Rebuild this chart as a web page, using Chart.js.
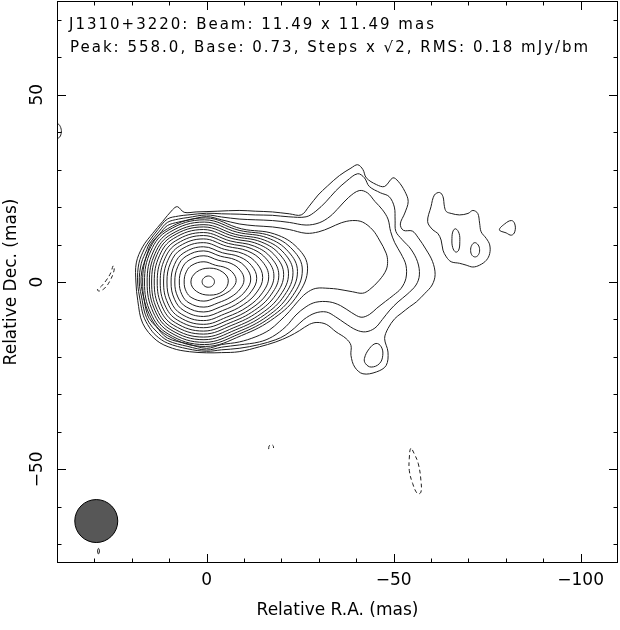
<!DOCTYPE html>
<html>
<head>
<meta charset="utf-8">
<script src="https://cdn.jsdelivr.net/npm/chart.js@4.4.1/dist/chart.umd.min.js"></script>
<style>
html,body{margin:0;padding:0;background:#fff;}
#wrap{width:620px;height:630px;}
</style>
</head>
<body>
<div id="wrap"><canvas id="c" width="620" height="630"></canvas></div>
<script>
// ---------- axes / ticks ----------
const X_RANGE = [-110, 40];
const Y_RANGE = [-75, 75];
const X_MAJOR = [0, -50, -100];
const X_MINOR = [30, 20, 10, -10, -20, -30, -40, -60, -70, -80, -90];
const Y_MAJOR = [50, 0, -50];
const Y_MINOR = [70, 60, 40, 30, 20, 10, -10, -20, -30, -40, -60, -70];
const X_TITLE = 'Relative R.A. (mas)';
const Y_TITLE = 'Relative Dec. (mas)';
const TITLE_LINE_1 = 'J1310+3220: Beam: 11.49 x 11.49 mas';
const TITLE_LINE_2 = 'Peak: 558.0, Base: 0.73, Steps x \u221A2, RMS: 0.18 mJy/bm';
const BEAM = {x: 29.5, y: -63.8, major: 11.49, minor: 11.49};

// ---------- contours (x = rel. R.A. mas, y = rel. Dec. mas) ----------
// levels 0..3 : enclose core + lobe
const CONTOUR_L0 = [[18.9,0],[18.8,5.1],[17.1,9.4],[14.4,13.0],[11.8,16.1],[9.1,19.3],[7.8,20.1],[6.0,18.6],[2.8,18.7],[-3,18.9],[-8.7,19.1],[-13,18.9],[-17.6,18.7],[-22.1,18.2],[-25.3,17.9],[-27.4,20.2],[-29.8,23.2],[-32.3,25.6],[-35.5,28.4],[-38.6,30.4],[-40.4,31.3],[-41.8,30.0],[-42.7,27.8],[-45.4,26.0],[-47.6,25.5],[-49.8,27.8],[-51.2,26.9],[-53.0,24.2],[-53.9,21.5],[-53.0,18.4],[-51.8,15.5],[-52.6,13.8],[-55.0,13.6],[-56.6,11.8],[-58.6,8.8],[-60.4,5.5],[-61.1,2.0],[-60.3,-0.8],[-58.4,-3.0],[-56.1,-5.3],[-54.3,-6.6],[-52.0,-8.4],[-50.3,-9.8],[-48.5,-12.4],[-47.6,-15.1],[-48.5,-18.7],[-48.0,-22.3],[-45.4,-24.0],[-41.8,-24.5],[-39.6,-22.7],[-38.6,-19.6],[-38.6,-16.9],[-37.3,-15.1],[-34.6,-13.3],[-32.0,-11.3],[-29.5,-10.8],[-27.5,-11.3],[-24.8,-13.0],[-22.1,-14.5],[-18.5,-16.0],[-14.1,-17.3],[-8.7,-18.6],[-4,-18.85],[0,-18.9],[4.6,-18.6],[9.1,-17.7],[13.5,-15.5],[17.1,-11.0],[18.4,-5]];
const CONTOUR_L1 = [[18.45,0],[18.1,5.0],[16.6,8.9],[15.34,10.95],[13.0,14.0],[10.49,16.8],[7.5,17.6],[5,17.9],[0,18.35],[-4,18.2],[-8.7,18.1],[-13,17.9],[-17.6,17.8],[-22,17.4],[-26.6,17.4],[-29.2,18.9],[-31.9,21.4],[-34.5,24.3],[-37.5,27.0],[-40.4,28.9],[-42.2,27.8],[-43.5,25.5],[-46.5,23.8],[-48.8,22.8],[-50.2,20.0],[-50.4,16.5],[-50.6,13.5],[-52.3,11.3],[-54.6,8.8],[-56.4,5.4],[-56.9,1.9],[-56.0,-0.8],[-53.6,-3.3],[-51.2,-5.3],[-49.0,-7.5],[-47.0,-10.0],[-45.0,-12.3],[-42.5,-13.3],[-40.0,-12.8],[-37.0,-11.0],[-34.5,-9.3],[-32.0,-8.0],[-29.0,-8.3],[-26.0,-10.0],[-23.5,-12.3],[-21.0,-14.2],[-18.5,-15.4],[-14.1,-16.7],[-8.7,-17.7],[-4,-18.1],[0,-18.5],[5,-17.85],[10.49,-16.3],[13.5,-14.3],[15.34,-12.05],[16.9,-9.0],[17.75,-5]];
const CONTOUR_L2 = [[18.0,0],[17.45,5],[16.0,8.6],[15.34,10.15],[12.6,13.6],[10.49,15.9],[7.5,16.8],[5,17.2],[0,17.9],[-4,17.35],[-8.7,16.8],[-13,16.6],[-17.6,16.4],[-22.1,15.9],[-26.6,15.2],[-30.1,15.8],[-33.0,17.5],[-35.5,20.0],[-38.0,22.6],[-40.8,24.4],[-43.0,23.8],[-45.0,21.5],[-47.0,19.3],[-48.5,16.8],[-49.2,13.5],[-50.3,10.5],[-52.0,7.5],[-53.3,4.5],[-53.3,1.0],[-52.0,-1.7],[-50.0,-3.5],[-47.8,-5.2],[-45.5,-7.0],[-43.5,-8.7],[-41.3,-9.4],[-38.8,-8.2],[-35.8,-6.3],[-32.8,-5.3],[-29.2,-5.4],[-26.6,-6.6],[-23.9,-8.8],[-21.2,-11.9],[-17.6,-14.6],[-14.1,-16.0],[-8.74,-16.8],[-4,-17.4],[0,-18.15],[5,-17.2],[10.49,-15.6],[13.5,-13.1],[15.34,-10.9],[16.6,-8.0],[17.2,-5]];
const CONTOUR_L3 = [[17.55,0],[17.3,3],[16.75,5],[15.9,7.5],[14.9,10.1],[12.5,12.9],[10.49,15.05],[7.5,16.0],[5,16.5],[0,17.45],[-4,16.6],[-8.7,15.5],[-13,15.0],[-17.6,14.7],[-22.1,14.0],[-26.6,13.0],[-30.0,13.4],[-33.0,14.5],[-36.0,15.8],[-39.0,16.4],[-41.7,16.0],[-44.4,13.9],[-46.2,11.2],[-48.0,7.7],[-48.4,5.5],[-48.0,3.2],[-46.2,0.5],[-43.5,-2.1],[-41.7,-3.0],[-39.0,-2.6],[-35.0,-1.9],[-32.8,-1.7],[-29.2,-1.7],[-26.6,-3.0],[-24.3,-5.3],[-22.1,-7.9],[-19.4,-10.6],[-16.8,-12.8],[-13.2,-14.6],[-8.74,-16.0],[-4,-16.7],[0,-17.7],[5,-16.5],[10.49,-14.95],[13.5,-11.9],[15.34,-9.75],[16.3,-7.0],[16.65,-5],[17.2,-2.5]];
// levels 4..19 : closed around the core
const CONTOUR_L4 = [[-27.0,3.7],[-24.35,9.06],[-18.18,12.81],[-9.36,14.19],[0.34,17.1],[10.49,14.19],[15.34,8.55],[17.1,0],[15.34,-8.6],[10.49,-14.28],[0.34,-17.2],[-9.36,-14.28],[-18.18,-9.55],[-24.35,-3.46]];
const CONTOUR_L5 = [[-25.6,3.2],[-23.07,8.56],[-17.16,12.31],[-8.72,13.78],[0.56,16.6],[10.27,13.78],[14.91,8.3],[16.6,0],[14.91,-8.35],[10.27,-13.86],[0.56,-16.7],[-8.72,-13.86],[-17.16,-9.39],[-23.07,-3.59]];
const CONTOUR_L6 = [[-24.3,2.8],[-21.89,8.08],[-16.26,11.78],[-8.22,13.28],[0.62,16.0],[9.87,13.28],[14.29,8.0],[15.9,0],[14.29,-8.05],[9.87,-13.36],[0.62,-16.1],[-8.22,-13.36],[-16.26,-9.14],[-21.89,-3.63]];
const CONTOUR_L7 = [[-23.1,2.5],[-20.8,7.62],[-15.42,11.2],[-7.74,12.7],[0.71,15.3],[9.54,12.7],[13.76,7.65],[15.3,0],[13.76,-7.7],[9.54,-12.78],[0.71,-15.4],[-7.74,-12.78],[-15.42,-8.8],[-20.8,-3.58]];
const CONTOUR_L8 = [[-21.9,2.2],[-19.7,7.2],[-14.58,10.7],[-7.26,12.2],[0.79,14.7],[9.21,12.2],[13.24,7.35],[14.7,0],[13.24,-7.35],[9.21,-12.2],[0.79,-14.7],[-7.26,-12.2],[-14.58,-8.45],[-19.7,-3.53]];
const CONTOUR_L9 = [[-20.6,2.0],[-18.52,6.8],[-13.68,10.16],[-6.76,11.62],[0.85,14.0],[8.81,11.62],[12.62,7.0],[14.0,0],[12.62,-6.95],[8.81,-11.54],[0.85,-13.9],[-6.76,-11.54],[-13.68,-8.02],[-18.52,-3.39]];
const CONTOUR_L10 = [[-19.3,1.8],[-17.35,6.36],[-12.8,9.55],[-6.3,10.96],[0.85,13.2],[8.33,10.96],[11.9,6.6],[13.2,0],[11.9,-6.55],[8.33,-10.87],[0.85,-13.1],[-6.3,-10.87],[-12.8,-7.58],[-17.35,-3.24]];
const CONTOUR_L11 = [[-18.0,1.6],[-16.18,5.92],[-11.92,8.94],[-5.84,10.29],[0.85,12.4],[7.84,10.29],[11.18,6.2],[12.4,0],[11.18,-6.1],[7.84,-10.13],[0.85,-12.2],[-5.84,-10.13],[-11.92,-7.08],[-16.18,-3.07]];
const CONTOUR_L12 = [[-16.6,1.4],[-14.91,5.44],[-10.98,8.27],[-5.36,9.55],[0.82,11.5],[7.29,9.55],[10.38,5.75],[11.5,0],[10.38,-5.65],[7.29,-9.38],[0.82,-11.3],[-5.36,-9.38],[-10.98,-6.59],[-14.91,-2.89]];
const CONTOUR_L13 = [[-15.0,1.2],[-13.46,4.92],[-9.88,7.52],[-4.76,8.72],[0.87,10.5],[6.76,8.72],[9.58,5.25],[10.6,0],[9.58,-5.15],[6.76,-8.55],[0.87,-10.3],[-4.76,-8.55],[-9.88,-6.03],[-13.46,-2.68]];
const CONTOUR_L14 = [[-13.4,1.0],[-12.03,4.36],[-8.82,6.71],[-4.24,7.8],[0.8,9.4],[6.07,7.8],[8.58,4.7],[9.5,0],[8.58,-4.6],[6.07,-7.64],[0.8,-9.2],[-4.24,-7.64],[-8.82,-5.4],[-12.03,-2.44]];
const CONTOUR_L15 = [[-11.8,0.8],[-10.58,3.8],[-7.74,5.9],[-3.68,6.89],[0.79,8.3],[5.46,6.89],[7.69,4.15],[8.5,0],[7.69,-4.0],[5.46,-6.64],[0.79,-8.0],[-3.68,-6.64],[-7.74,-4.72],[-10.58,-2.16]];
const CONTOUR_L16 = [[-10.0,0.6],[-8.96,3.16],[-6.54,4.95],[-3.08,5.81],[0.73,7.0],[4.71,5.81],[6.61,3.5],[7.3,0],[6.61,-3.35],[4.71,-5.56],[0.73,-6.7],[-3.08,-5.56],[-6.54,-3.97],[-8.96,-1.85]];
const CONTOUR_L17 = [[-7.9,0.4],[-7.07,2.4],[-5.12,3.8],[-2.34,4.48],[0.72,5.4],[3.92,4.48],[5.44,2.7],[6.0,0],[5.44,-2.55],[3.92,-4.23],[0.72,-5.1],[-2.34,-4.23],[-5.12,-3.04],[-7.07,-1.44]];
const CONTOUR_L18 = [[-5.8,0.3],[-4.34,2.62],[-0.8,3.7],[2.74,2.62],[4.2,0],[2.74,-2.47],[-0.8,-3.5],[-4.34,-2.47]];
const CONTOUR_L19 = [[-2.1,0.1],[-1.62,1.1],[-0.45,1.6],[0.72,1.1],[1.2,0.1],[0.72,-0.95],[-0.45,-1.4],[-1.62,-0.95]];
// separate positive islands
const ISLAND_WEST = [[-59.1,16.1],[-60.0,20.1],[-60.9,23.2],[-62.3,23.9],[-63.2,22.8],[-63.6,20.1],[-64.1,18.8],[-65.4,18.3],[-67.6,17.9],[-69.9,18.3],[-71.2,19.1],[-72.5,18.3],[-73.0,15.7],[-73.4,13.4],[-74.8,11.6],[-75.7,9.9],[-75.7,7.6],[-74.8,5.8],[-73.0,4.5],[-71.2,4.0],[-69.4,4.5],[-67.6,5.0],[-65.4,5.4],[-64.1,6.7],[-63.2,8.5],[-62.7,11.2],[-61.8,13.0],[-60.5,13.9]];
const ISLAND_WEST_IN1 = [[-66.6,14.2],[-67.5,13.0],[-67.7,10.8],[-67.4,8.5],[-66.6,8.0],[-65.8,9.2],[-65.6,11.6],[-65.9,13.6]];
const ISLAND_WEST_IN2 = [[-71.7,10.5],[-72.6,9.9],[-73.0,8.6],[-72.7,7.3],[-71.9,6.7],[-71.0,7.1],[-70.6,8.4],[-70.9,9.8]];
const ISLAND_FAR = [[-78.3,13.9],[-79.7,15.5],[-81.5,16.4],[-82.4,15.5],[-82.4,13.4],[-81.5,12.5],[-80.1,13.1]];
const ISLAND_SOUTH = [[-42.2,-20.4],[-43.5,-17.8],[-45.3,-16.4],[-46.7,-17.3],[-47.1,-19.6],[-46.2,-21.8],[-44.0,-22.7],[-42.5,-21.8]];
const EDGE_ARC = [[41,42.6],[39.8,42.3],[39.0,41.2],[38.9,39.6],[39.5,38.5],[41,38.1]];
const SPECK_SOUTH = [[28.9,-71.1],[28.65,-71.8],[28.9,-72.6],[29.15,-71.8]];
// negative (dashed) contours
const NEG_EAST = [[25.0,4.3],[25.6,2.5],[26.8,0.5],[28.2,-1.2],[29.2,-2.1],[28.6,-2.4],[27.2,-1.6],[25.9,0.2],[24.9,2.5],[24.7,4.0]];
const NEG_SOUTH_ARC = [[-16.6,-44.6],[-16.7,-43.8],[-17.2,-43.4],[-17.8,-43.7],[-17.9,-44.3]];
const NEG_SOUTHWEST = [[-54.6,-44.4],[-54.2,-47.0],[-54.2,-50.3],[-55.1,-53.8],[-56.4,-56.5],[-57.3,-56.1],[-57.3,-52.9],[-56.6,-48.5],[-55.5,-45.8]];

const CLOSED_POSITIVE = [CONTOUR_L0, CONTOUR_L1, CONTOUR_L2, CONTOUR_L3, CONTOUR_L4, CONTOUR_L5, CONTOUR_L6, CONTOUR_L7, CONTOUR_L8, CONTOUR_L9, CONTOUR_L10, CONTOUR_L11, CONTOUR_L12, CONTOUR_L13, CONTOUR_L14, CONTOUR_L15, CONTOUR_L16, CONTOUR_L17, CONTOUR_L18, CONTOUR_L19, ISLAND_WEST, ISLAND_WEST_IN1, ISLAND_WEST_IN2, ISLAND_FAR, ISLAND_SOUTH, SPECK_SOUTH];
const OPEN_POSITIVE = [EDGE_ARC];
const CLOSED_NEGATIVE = [NEG_EAST, NEG_SOUTHWEST];
const OPEN_NEGATIVE = [NEG_SOUTH_ARC];

// ---------- build datasets ----------
const LINE_COLOR = '#1e1e1e';
function toXY(arr){ return arr.map(p => ({x: p[0], y: p[1]})); }
function closedDataset(pts, dashed, tension){
  const n = pts.length;
  const wrapped = [pts[n-1]].concat(pts, [pts[0], pts[1]]);
  return {
    data: toXY(wrapped), showLine: true, pointRadius: 0, pointHoverRadius: 0, pointHitRadius: 0,
    borderColor: LINE_COLOR, borderWidth: 1, tension: tension, fill: false,
    borderDash: dashed ? [4, 3] : [],
    segment: { borderColor: c => (c.p0DataIndex === 0 || c.p0DataIndex === n + 1) ? 'rgba(0,0,0,0)' : undefined }
  };
}
function openDataset(pts, dashed){
  return {
    data: toXY(pts), showLine: true, pointRadius: 0, pointHoverRadius: 0, pointHitRadius: 0,
    borderColor: LINE_COLOR, borderWidth: 1, tension: 0.4, fill: false,
    borderDash: dashed ? [4, 3] : []
  };
}
const datasets = [];
CLOSED_POSITIVE.forEach(c => datasets.push(closedDataset(c, false, c.length > 20 ? 0.35 : 0.4)));
OPEN_POSITIVE.forEach(c => datasets.push(openDataset(c, false)));
CLOSED_NEGATIVE.forEach(c => datasets.push(closedDataset(c, true, 0.4)));
OPEN_NEGATIVE.forEach(c => datasets.push(openDataset(c, true)));
// restoring beam
datasets.push({
  data: [{x: BEAM.x, y: BEAM.y}], showLine: false,
  pointRadius: ctx => { const s = ctx.chart.scales.x; return Math.abs(s.getPixelForValue(0) - s.getPixelForValue(BEAM.major / 2)); },
  pointHoverRadius: 0, pointHitRadius: 0,
  pointBackgroundColor: '#575757', pointBorderColor: '#000', pointBorderWidth: 1
});

const fmt = v => v < 0 ? '\u2212' + Math.abs(v) : String(v);
const noPad = s => { s.paddingTop = 0; s.paddingBottom = 0; s.paddingLeft = 0; s.paddingRight = 0; };

const framePlugin = {
  id: 'frameTicks',
  afterDatasetsDraw(chart){
    const {ctx, chartArea: a, scales: {x, y}} = chart;
    ctx.save();
    ctx.strokeStyle = '#000';
    ctx.lineWidth = 1;
    const L = Math.round(a.left), R = Math.round(a.right), T = Math.round(a.top), B = Math.round(a.bottom);
    ctx.strokeRect(L + 0.5, T + 0.5, R - L - 1, B - T - 1);
    ctx.beginPath();
    const xt = (vals, len) => vals.forEach(v => {
      const p = Math.round(x.getPixelForValue(v)) + 0.5;
      ctx.moveTo(p, B); ctx.lineTo(p, B - len);
      ctx.moveTo(p, T); ctx.lineTo(p, T + len);
    });
    const yt = (vals, len) => vals.forEach(v => {
      const p = Math.round(y.getPixelForValue(v)) + 0.5;
      ctx.moveTo(L, p); ctx.lineTo(L + len, p);
      ctx.moveTo(R, p); ctx.lineTo(R - len, p);
    });
    xt(X_MAJOR, 9); xt(X_MINOR, 4.5);
    yt(Y_MAJOR, 9); yt(Y_MINOR, 4.5);
    ctx.stroke();
    ctx.fillStyle = '#000';
    ctx.font = '15px "DejaVu Sans"';
    ctx.textBaseline = 'alphabetic';
    ctx.textAlign = 'left';
    try { ctx.letterSpacing = '2px'; } catch (e) {}
    ctx.fillText(TITLE_LINE_1, L + 12, T + 28.3);
    ctx.fillText(TITLE_LINE_2, L + 13, T + 51.3);
    ctx.restore();
  }
};

Chart.defaults.font.family = '"DejaVu Sans", sans-serif';
Chart.defaults.color = '#000';

new Chart(document.getElementById('c'), {
  type: 'scatter',
  data: { datasets },
  options: {
    responsive: false, devicePixelRatio: 1, animation: false, events: [],
    layout: { padding: { left: 0, right: 2, top: 1, bottom: 0 } },
    plugins: { legend: { display: false }, tooltip: { enabled: false } },
    scales: {
      x: {
        type: 'linear', min: X_RANGE[0], max: X_RANGE[1], reverse: true,
        afterBuildTicks: s => { s.ticks = X_MAJOR.map(v => ({value: v})); },
        afterFit: s => { s.height = 67; noPad(s); },
        grid: { display: false, drawTicks: false }, border: { display: false },
        ticks: { padding: 7, autoSkip: false, maxRotation: 0, font: { size: 17 }, color: '#000', callback: fmt },
        title: { display: true, text: X_TITLE, color: '#000', font: { size: 17 }, padding: { top: 0, bottom: 9 } }
      },
      y: {
        type: 'linear', min: Y_RANGE[0], max: Y_RANGE[1],
        afterBuildTicks: s => { s.ticks = Y_MAJOR.map(v => ({value: v})); },
        afterFit: s => { s.width = 57; noPad(s); },
        grid: { display: false, drawTicks: false }, border: { display: false },
        ticks: { padding: 1.5, minRotation: 90, maxRotation: 90, crossAlign: 'center', autoSkip: false, font: { size: 17 }, color: '#000', callback: fmt },
        title: { display: true, text: Y_TITLE, color: '#000', font: { size: 17 }, padding: { top: 1.5, bottom: 0 } }
      }
    }
  },
  plugins: [framePlugin]
});
</script>
</body>
</html>
